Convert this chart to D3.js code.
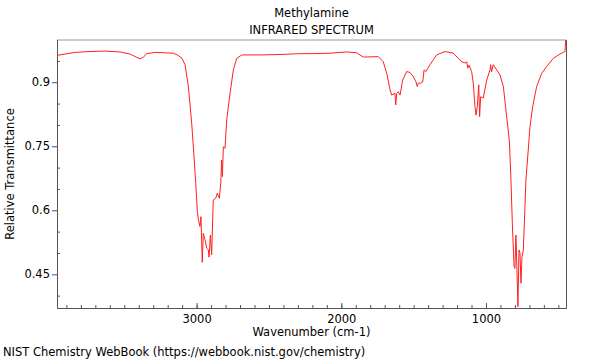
<!DOCTYPE html>
<html>
<head>
<meta charset="utf-8">
<script src="https://cdn.jsdelivr.net/npm/d3@7"></script>
<style>
  body { margin: 0; background: #fff; }
  text { font-family: "DejaVu Sans", sans-serif; font-size: 11.5px; fill: #000; }
</style>
</head>
<body>
<div id="viz"></div>
<script>
// spectrum: wavenumber (cm-1) and relative transmittance
var wavenumber = [3965, 3910, 3840, 3737, 3633, 3529, 3460, 3412, 3391, 3370, 3345, 3288, 3219, 3161, 3128, 3101,
  3080, 3057, 3034, 3018, 3006, 2995, 2988, 2977, 2970, 2961, 2954, 2942, 2930, 2919, 2914, 2905, 2896,
  2885, 2868, 2857, 2843, 2833, 2827, 2822, 2815, 2804, 2792, 2769, 2746, 2723, 2688, 2562, 2424, 2285,
  2182, 2078, 1963, 1894, 1848, 1744, 1710, 1686, 1663, 1652, 1629, 1624, 1617, 1606, 1594, 1576, 1548,
  1525, 1502, 1484, 1475, 1468, 1451, 1437, 1428, 1415, 1387, 1341, 1283, 1226, 1168, 1145, 1133, 1126,
  1117, 1099, 1088, 1076, 1069, 1060, 1050, 1044, 1037, 1019, 995, 972, 968, 962, 950, 926, 903, 880,
  857, 839, 829, 818, 806, 800, 793, 786, 779, 772, 765, 758, 751, 742, 735, 724, 708, 696, 677, 650,
  615, 580, 535, 489, 454, 449];
var transmittance = [0.963, 0.966, 0.970, 0.972, 0.973, 0.971, 0.966, 0.958, 0.955, 0.958, 0.967, 0.970, 0.969, 0.968, 0.963, 0.956,
  0.941, 0.890, 0.804, 0.726, 0.663, 0.597, 0.578, 0.562, 0.585, 0.478, 0.546, 0.531, 0.511, 0.507, 0.490, 0.542, 0.496,
  0.624, 0.628, 0.640, 0.628, 0.664, 0.718, 0.679, 0.749, 0.745, 0.812, 0.874, 0.929, 0.956, 0.964, 0.964, 0.965, 0.967,
  0.967, 0.968, 0.971, 0.969, 0.959, 0.960, 0.948, 0.921, 0.882, 0.870, 0.874, 0.847, 0.874, 0.878, 0.870, 0.905, 0.925,
  0.923, 0.913, 0.901, 0.890, 0.898, 0.898, 0.901, 0.929, 0.925, 0.941, 0.964, 0.972, 0.968, 0.948, 0.945, 0.948, 0.933,
  0.940, 0.925, 0.898, 0.843, 0.823, 0.843, 0.894, 0.819, 0.866, 0.863, 0.905, 0.929, 0.941, 0.924, 0.941, 0.929, 0.917, 0.890,
  0.819, 0.765, 0.687, 0.570, 0.468, 0.464, 0.542, 0.460, 0.374, 0.507, 0.500, 0.429, 0.492, 0.507, 0.570, 0.671, 0.741, 0.796, 0.843, 0.890,
  0.921, 0.937, 0.956, 0.966, 0.972, 0.999];

var xMajor = [3000, 2000, 1000];
var xMinor = d3.range(500, 4000, 100);
var yMajor = [0.45, 0.6, 0.75, 0.9];
var yMinor = [0.4, 0.5, 0.55, 0.65, 0.7, 0.8, 0.85, 0.95];

var width = 600, height = 360;
var pLeft = 57, pRight = 566, pTop = 40, pBottom = 308;

var svg = d3.select("#viz").append("svg")
  .attr("width", width)
  .attr("height", height);

var x = d3.scaleLinear().domain([3965, 447]).range([pLeft, pRight]);
var y = d3.scaleLinear().domain([0.371, 0.999]).range([pBottom, pTop]);

// titles
svg.append("text").attr("x", (pLeft + pRight) / 2).attr("y", 17)
  .attr("text-anchor", "middle").text("Methylamine");
svg.append("text").attr("x", (pLeft + pRight) / 2).attr("y", 34)
  .attr("text-anchor", "middle").text("INFRARED SPECTRUM");

// x axis: major and minor ticks both point inwards
svg.append("g").attr("transform", "translate(0," + pBottom + ")")
  .call(d3.axisBottom(x).tickValues(xMajor).tickFormat(d3.format("d")).tickSize(-5).tickPadding(7));
svg.append("g").attr("transform", "translate(0," + pBottom + ")")
  .call(d3.axisBottom(x).tickValues(xMinor).tickFormat("").tickSize(-3));

// y axis: major ticks outwards, minor inwards
svg.append("g").attr("transform", "translate(" + pLeft + ",0)")
  .call(d3.axisLeft(y).tickValues(yMajor).tickFormat(function(d) { return d === 0.6 || d === 0.9 ? d.toFixed(1) : d.toFixed(2); })
    .tickSize(5).tickPadding(2));
svg.append("g").attr("transform", "translate(" + pLeft + ",0)")
  .call(d3.axisLeft(y).tickValues(yMinor).tickFormat("").tickSize(-3));

svg.selectAll(".domain").remove();
svg.selectAll(".tick line").attr("stroke", "#555");
svg.selectAll(".tick text").style("font-family", "DejaVu Sans, sans-serif").style("font-size", "11.5px").attr("fill", "#000");

// frame
svg.append("line").attr("x1", pLeft).attr("y1", pTop).attr("x2", pRight).attr("y2", pTop)
  .attr("stroke", "#999");
svg.append("path")
  .attr("d", "M" + (pLeft + 0.5) + "," + pTop + "V" + (pBottom + 0.5) + "H" + (pRight + 0.5) + "V" + pTop)
  .attr("fill", "none").attr("stroke", "#555");

// spectrum
var pts = wavenumber.map(function(w, i) { return [w, transmittance[i]]; });
svg.append("path")
  .datum(pts)
  .attr("fill", "none")
  .attr("stroke", "#ff2020")
  .attr("stroke-width", 1)
  .attr("d", d3.line().x(function(d) { return x(d[0]); }).y(function(d) { return y(d[1]); }));

// labels
svg.append("text").attr("x", (pLeft + pRight) / 2).attr("y", 336)
  .attr("text-anchor", "middle").text("Wavenumber (cm-1)");
svg.append("text")
  .attr("transform", "translate(14," + ((pTop + pBottom) / 2) + ") rotate(-90)")
  .attr("text-anchor", "middle").text("Relative Transmittance");
svg.append("text").attr("x", 3).attr("y", 356).text("NIST Chemistry WebBook (https://webbook.nist.gov/chemistry)");
</script>
</body>
</html>
